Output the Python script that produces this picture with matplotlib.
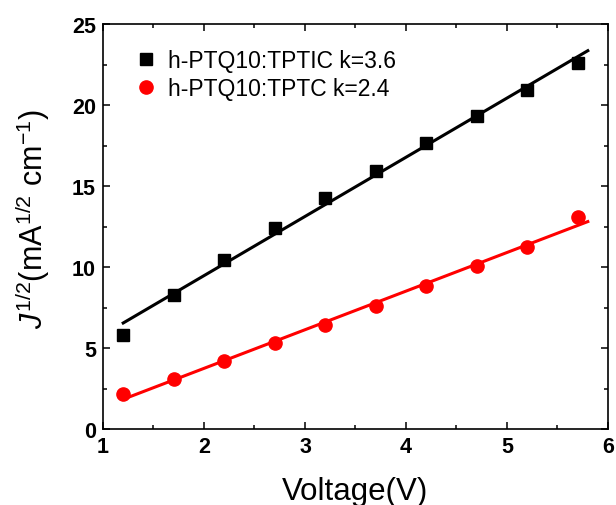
import matplotlib
matplotlib.use('Agg')
import matplotlib.pyplot as plt
import numpy as np
from matplotlib.ticker import MultipleLocator

plt.rcParams['font.family'] = 'Liberation Sans'
plt.rcParams['mathtext.fontset'] = 'custom'
plt.rcParams['mathtext.rm'] = 'Liberation Sans'
plt.rcParams['mathtext.it'] = 'Liberation Sans:italic'

# Data
voltage = [1.2, 1.7, 2.2, 2.7, 3.2, 3.7, 4.2, 4.7, 5.2, 5.7]
j_tptic = [5.8, 8.3, 10.45, 12.4, 14.25, 15.95, 17.65, 19.3, 20.95, 22.6]
j_tptc = [2.15, 3.1, 4.2, 5.3, 6.4, 7.6, 8.85, 10.05, 11.25, 13.1]
fit_range = [1.2, 5.8]

labels = ['h-PTQ10:TPTIC k=3.6', 'h-PTQ10:TPTC k=2.4']

fig = plt.figure(figsize=(6.16, 5.06), dpi=100)
ax = fig.add_axes([103 / 616, 1 - 430 / 506, 505 / 616, 405 / 506])

xf = np.array(fit_range)
for y, color, marker, ms, lab in [(j_tptic, 'black', 's', 8.5, labels[0]),
                                  (j_tptc, 'red', 'o', 9.5, labels[1])]:
    ax.plot(voltage, y, linestyle='none', marker=marker, color=color,
            markersize=ms, label=lab)
    k, b = np.polyfit(voltage, y, 1)
    ax.plot(xf, k * xf + b, color=color, linewidth=2.2)

ax.set_xlim(1, 6)
ax.set_ylim(0, 25)
ax.xaxis.set_major_locator(MultipleLocator(1))
ax.xaxis.set_minor_locator(MultipleLocator(0.5))
ax.yaxis.set_major_locator(MultipleLocator(5))
ax.yaxis.set_minor_locator(MultipleLocator(2.5))
ax.tick_params(which='both', direction='in', top=True, right=True, width=1.1)
ax.tick_params(which='major', length=5, labelsize=15.5, pad=5)
ax.tick_params(which='minor', length=3)
for t in ax.get_xticklabels() + ax.get_yticklabels():
    t.set_fontweight('bold')
for s in ax.spines.values():
    s.set_linewidth(1.2)

ax.set_xlabel('Voltage(V)', fontsize=22.5, labelpad=14)
ax.set_ylabel(r'$\mathit{J}^{1/2}$(mA$^{1/2}$ cm$^{-1}$)', fontsize=22)
ax.yaxis.set_label_coords(-0.1, 0.52)

ax.legend(loc='upper left', frameon=False, fontsize=16.5, handletextpad=0.2,
          borderaxespad=0.5, labelspacing=0.25, handlelength=1.5,
          bbox_to_anchor=(0.01, 0.99))

fig.savefig('out.png', dpi=100)
